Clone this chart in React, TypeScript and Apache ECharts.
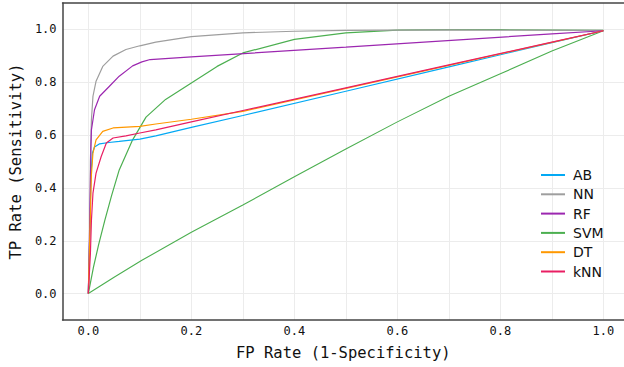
import React, { useEffect, useRef } from "react";
import * as echarts from "echarts";

const abX = [0, 0.003, 0.005, 0.008, 0.012, 0.022, 0.04, 0.06, 0.1, 0.131, 0.2, 0.3, 0.5, 0.7, 0.9, 1.0];
const abY = [0, 0.25, 0.45, 0.532, 0.555, 0.567, 0.572, 0.576, 0.585, 0.597, 0.629, 0.674, 0.766, 0.858, 0.95, 0.995];

const nnX = [0, 0.003, 0.004, 0.006, 0.009, 0.015, 0.028, 0.048, 0.073, 0.1, 0.131, 0.2, 0.3, 0.4, 0.5, 0.7, 1.0];
const nnY = [0, 0.25, 0.5, 0.658, 0.747, 0.804, 0.86, 0.899, 0.924, 0.938, 0.952, 0.973, 0.987, 0.993, 0.996, 0.998, 0.996];

const rfX = [0, 0.003, 0.005, 0.006, 0.012, 0.022, 0.041, 0.06, 0.086, 0.104, 0.12, 0.2, 0.5, 0.9, 1.0];
const rfY = [0, 0.3, 0.55, 0.62, 0.696, 0.747, 0.785, 0.823, 0.862, 0.877, 0.886, 0.896, 0.933, 0.983, 0.995];

const svmX = [0, 0.01, 0.02, 0.032, 0.045, 0.06, 0.086, 0.112, 0.15, 0.2, 0.25, 0.3, 0.4, 0.5, 0.6, 0.7, 0.8, 1.0];
const svmY = [0, 0.1, 0.185, 0.277, 0.37, 0.468, 0.582, 0.668, 0.735, 0.797, 0.86, 0.911, 0.962, 0.987, 0.997, 0.999, 0.999, 0.996];

const svm2X = [0, 0.05, 0.104, 0.2, 0.3, 0.4, 0.5, 0.6, 0.7, 0.8, 0.9, 1.0];
const svm2Y = [0, 0.062, 0.126, 0.232, 0.335, 0.442, 0.547, 0.65, 0.747, 0.832, 0.918, 0.995];

const dtX = [0, 0.004, 0.006, 0.009, 0.015, 0.028, 0.048, 0.1, 0.131, 0.2, 0.3, 0.5, 0.7, 0.9, 1.0];
const dtY = [0, 0.3, 0.45, 0.532, 0.582, 0.614, 0.627, 0.633, 0.642, 0.66, 0.69, 0.777, 0.864, 0.951, 0.995];

const knnX = [0, 0.004, 0.006, 0.009, 0.015, 0.025, 0.035, 0.048, 0.073, 0.1, 0.131, 0.2, 0.3, 0.5, 0.7, 0.9, 1.0];
const knnY = [0, 0.15, 0.277, 0.38, 0.456, 0.519, 0.57, 0.589, 0.597, 0.608, 0.62, 0.65, 0.693, 0.779, 0.866, 0.952, 0.995];

const legendNames = ["AB", "NN", "RF", "SVM", "DT", "kNN"];
const xGridValues = [0, 0.1, 0.2, 0.3, 0.4, 0.5, 0.6, 0.7, 0.8, 0.9, 1.0];
const xTickValues = [0, 0.2, 0.4, 0.6, 0.8, 1.0];
const yTickValues = [0, 0.2, 0.4, 0.6, 0.8, 1.0];

const zip = (xs: number[], ys: number[]) => xs.map((x, i) => [x, ys[i]]);

const MONO = "'DejaVu Sans Mono', monospace";
const SANS = "'DejaVu Sans', sans-serif";

export default function App() {
  const ref = useRef<HTMLDivElement>(null);
  useEffect(() => {
    if (!ref.current) return;
    const chart = echarts.init(ref.current, undefined, { renderer: "svg" });
    const frame = { show: true, onZero: false, lineStyle: { color: "#444444", width: 1.5 } };
    const line = (name: string, xs: number[], ys: number[], color: string, w = 1.2) => ({
      name,
      type: "line",
      data: zip(xs, ys),
      showSymbol: false,
      symbol: "none",
      smooth: false,
      lineStyle: { color, width: w },
      itemStyle: { color },
      xAxisIndex: 0,
      yAxisIndex: 0,
    });
    chart.setOption({
      animation: false,
      backgroundColor: "#ffffff",
      grid: { left: 60, right: 0, top: 3, bottom: 47, containLabel: false },
      legend: {
        data: legendNames,
        orient: "vertical",
        left: 536,
        top: 163,
        icon: "rect",
        itemWidth: 24,
        itemHeight: 2,
        itemGap: 5.3,
        textStyle: { fontFamily: SANS, fontSize: 14, color: "#111111", padding: [0, 0, 0, 3] },
      },
      xAxis: [
        {
          type: "value",
          min: -0.05,
          max: 1.04,
          axisLine: frame,
          axisTick: { show: false, customValues: xGridValues },
          axisLabel: {
            customValues: xTickValues,
            formatter: (v: number) => v.toFixed(1),
            fontFamily: MONO,
            fontSize: 12,
            color: "#111111",
            margin: 5,
          },
          splitLine: { show: true, lineStyle: { color: "#ececec", width: 1 } },
          name: "FP Rate (1-Specificity)",
          nameLocation: "middle",
          nameGap: 25,
          nameTextStyle: { fontFamily: MONO, fontSize: 15.5, color: "#111111" },
        },
        {
          type: "value",
          position: "top",
          min: -0.05,
          max: 1.04,
          axisLine: frame,
          axisTick: { show: false },
          axisLabel: { show: false },
          splitLine: { show: false },
        },
      ],
      yAxis: {
        type: "value",
        min: -0.1,
        max: 1.1,
        axisLine: frame,
        axisTick: { show: false, customValues: yTickValues },
        axisLabel: {
          customValues: yTickValues,
          formatter: (v: number) => v.toFixed(1),
          fontFamily: MONO,
          fontSize: 12,
          color: "#111111",
          margin: 6,
        },
        splitLine: { show: true, lineStyle: { color: "#ececec", width: 1 } },
        name: "TP Rate (Sensitivity)",
        nameLocation: "middle",
        nameGap: 36,
        nameTextStyle: { fontFamily: MONO, fontSize: 15.5, color: "#111111" },
      },
      series: [
        line("SVM", svm2X, svm2Y, "#4CAF50", 1.1),
        line("SVM", svmX, svmY, "#4CAF50"),
        line("AB", abX, abY, "#03A9F4"),
        line("NN", nnX, nnY, "#9E9E9E"),
        line("RF", rfX, rfY, "#9C27B0"),
        line("DT", dtX, dtY, "#FF9800"),
        line("kNN", knnX, knnY, "#E91E63"),
      ],
    });
    return () => chart.dispose();
  }, []);
  return <div ref={ref} style={{ width: 624, height: 367, position: "absolute", left: 0, top: 0 }} />;
}
